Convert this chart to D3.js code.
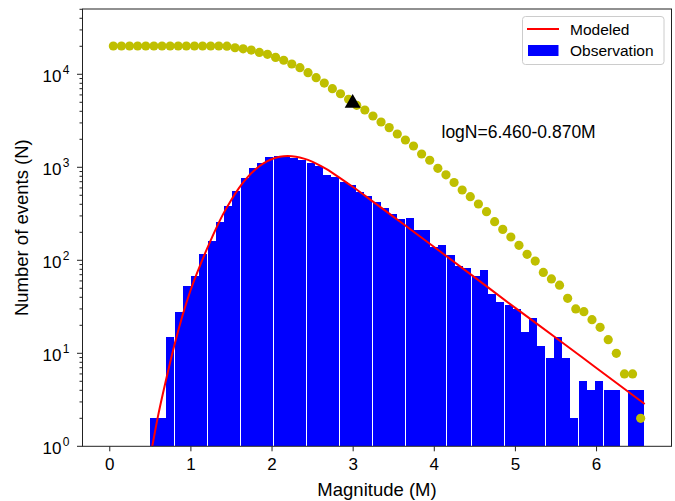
<!DOCTYPE html>
<html>
<head>
<meta charset="utf-8">
<script src="https://cdn.jsdelivr.net/npm/d3@7"></script>
<style>
  body { margin: 0; background: #fff; }
  text { font-family: "Liberation Sans", Arial, Helvetica, sans-serif; fill: #000; }
</style>
</head>
<body>
<div id="root"></div>
<script>
// observed histogram: 60 bins between 0.5 and 6.6 (edges) and their counts
const binEdges = [0.500, 0.602, 0.703, 0.805, 0.907, 1.008, 1.110, 1.212, 1.313, 1.415,
  1.517, 1.618, 1.720, 1.822, 1.923, 2.025, 2.127, 2.228, 2.330, 2.432,
  2.533, 2.635, 2.737, 2.838, 2.940, 3.042, 3.143, 3.245, 3.347, 3.448,
  3.550, 3.652, 3.753, 3.855, 3.957, 4.058, 4.160, 4.262, 4.363, 4.465,
  4.567, 4.668, 4.770, 4.872, 4.973, 5.075, 5.177, 5.278, 5.380, 5.482,
  5.583, 5.685, 5.787, 5.888, 5.990, 6.092, 6.193, 6.295, 6.397, 6.498, 6.600]
const binCounts = [2, 2, 15, 28, 53, 68, 116, 161, 258, 380,
  560, 762, 975, 1105, 1290, 1310, 1310, 1260, 1185, 1125,
  1035, 830, 785, 700, 645, 547, 491, 424, 362, 315,
  278, 285, 212, 212, 140, 146, 114, 87, 83, 67,
  79, 43, 36, 33, 30, 17, 24, 12, 9, 15,
  9, 2, 5, 4, 5, 4, 4, 0, 4, 4]
const barWidth = 0.0985

// cumulative counts (yellow dots)
const cumMags = [0.05, 0.15, 0.25, 0.35, 0.45, 0.55, 0.65, 0.75, 0.85, 0.95,
  1.05, 1.15, 1.25, 1.35, 1.45, 1.55, 1.65, 1.75, 1.85, 1.95,
  2.05, 2.15, 2.25, 2.35, 2.45, 2.55, 2.65, 2.75, 2.85, 2.95,
  3.05, 3.15, 3.25, 3.35, 3.45, 3.55, 3.65, 3.75, 3.85, 3.95,
  4.05, 4.15, 4.25, 4.35, 4.45, 4.55, 4.65, 4.75, 4.85, 4.95,
  5.05, 5.15, 5.25, 5.35, 5.45, 5.55, 5.65, 5.75, 5.85, 5.95,
  6.05, 6.15, 6.25, 6.35, 6.45, 6.55]
const cumCounts = [20150, 20150, 20150, 20150, 20150, 20150, 20150, 20150, 20150, 20150,
  20150, 20150, 20150, 20150, 20050, 19300, 18800, 18200, 17200, 16400,
  15200, 14150, 12900, 11770, 10400, 9190, 8050, 7000, 6180, 5380,
  4640, 4130, 3560, 3070, 2670, 2280, 1965, 1695, 1390, 1190,
  975, 830, 686, 570, 483, 403, 333, 260, 215, 178,
  145, 116, 98, 74, 63, 54, 39, 30, 28, 23,
  19, 14, 10, 6, 6, 2]

// modeled curve
const modelMags = [0.53, 0.6, 0.7, 0.8, 0.9, 1.0, 1.1, 1.2, 1.3, 1.4,
  1.5, 1.6, 1.7, 1.8, 1.9, 2.0, 2.1, 2.2, 2.3, 2.4,
  2.5, 2.6, 2.7, 2.8, 3.0, 3.2, 3.5, 4.0, 4.5, 5.0, 5.5, 6.0, 6.6]
const modelCounts = [1.0, 2.1, 5.2, 12, 25, 47, 80, 130, 205, 310,
  440, 600, 775, 945, 1100, 1220, 1295, 1320, 1300, 1240,
  1150, 1040, 930, 815, 617, 461, 295, 140, 66, 31, 14.8, 7.0, 2.85]

// completeness magnitude marker
const mcMag = 3.0
const mcCount = 4900

const fitLabel = "logN=6.460-0.870M"
const xTicks = [0, 1, 2, 3, 4, 5, 6]
const yMajor = [1, 10, 100, 1000, 10000]

const width = 675
const height = 501
const margin = { top: 9, right: 3.5, bottom: 54.7, left: 82.5 }
const boundedWidth = width - margin.left - margin.right
const boundedHeight = height - margin.top - margin.bottom

const svg = d3.select("#root").append("svg")
  .attr("width", width)
  .attr("height", height)

const bounds = svg.append("g")
  .attr("transform", `translate(${margin.left},${margin.top})`)

const xScale = d3.scaleLinear()
  .domain([-0.33, 6.93])
  .range([0, boundedWidth])

const yScale = d3.scaleLog()
  .domain([1, Math.pow(10, 4.702)])
  .range([boundedHeight, 0])

// bars
const bins = binCounts.map((n, i) => ({ m: binEdges[i], n })).filter(d => d.n > 0)
bounds.append("g")
  .selectAll("rect")
  .data(bins)
  .join("rect")
  .attr("x", d => xScale(d.m))
  .attr("width", d => xScale(d.m + barWidth) - xScale(d.m))
  .attr("y", d => yScale(d.n))
  .attr("height", d => boundedHeight - yScale(d.n))
  .attr("fill", "#0000ff")
  .attr("shape-rendering", "crispEdges")

// modeled curve
const modelData = modelMags.map((m, i) => [m, modelCounts[i]])
bounds.append("path")
  .datum(modelData)
  .attr("fill", "none")
  .attr("stroke", "#ff0000")
  .attr("stroke-width", 2)
  .attr("d", d3.line()
    .x(d => xScale(d[0]))
    .y(d => yScale(d[1]))
    .curve(d3.curveMonotoneX))

// cumulative dots
bounds.append("g")
  .selectAll("circle")
  .data(cumMags.map((m, i) => [m, cumCounts[i]]))
  .join("circle")
  .attr("cx", d => xScale(d[0]))
  .attr("cy", d => yScale(d[1]))
  .attr("r", 4.6)
  .attr("fill", "#bfbf00")

// Mc triangle
bounds.append("path")
  .attr("d", d3.symbol(d3.symbolTriangle, 110)())
  .attr("transform", `translate(${xScale(mcMag)},${yScale(mcCount)})`)
  .attr("fill", "#000")

bounds.append("text")
  .attr("x", 359)
  .attr("y", 129)
  .style("font-size", "17.5px")
  .text(fitLabel)

// frame
bounds.append("rect")
  .attr("width", boundedWidth)
  .attr("height", boundedHeight)
  .attr("fill", "none")
  .attr("stroke", "#222")
  .attr("stroke-width", 1)

// x axis
const xAxis = bounds.append("g")
  .attr("transform", `translate(0,${boundedHeight})`)
  .call(d3.axisBottom(xScale).tickValues(xTicks).tickFormat(d3.format("d")).tickSize(5).tickPadding(7))
xAxis.select(".domain").remove()
xAxis.selectAll("line").attr("stroke", "#222")
xAxis.selectAll("text").style("font-size", "17px").attr("fill", "#000")

// y axis, log ticks
const yAxis = bounds.append("g")
const minorTicks = []
yMajor.concat([100000]).forEach(p => {
  for (let k = 2; k <= 9; k++) {
    const v = p * k
    if (v < yScale.domain()[1]) minorTicks.push(v)
  }
})
yAxis.selectAll(".minor")
  .data(minorTicks)
  .join("line")
  .attr("x1", -3)
  .attr("x2", 0)
  .attr("y1", d => yScale(d))
  .attr("y2", d => yScale(d))
  .attr("stroke", "#222")
yAxis.selectAll(".major")
  .data(yMajor)
  .join("line")
  .attr("x1", -5.5)
  .attr("x2", 0)
  .attr("y1", d => yScale(d))
  .attr("y2", d => yScale(d))
  .attr("stroke", "#222")

const yLabels = yAxis.selectAll(".ylab")
  .data(yMajor)
  .join("text")
  .attr("text-anchor", "end")
  .attr("x", -21)
  .attr("y", d => yScale(d) + 8)
  .style("font-size", "17px")
yLabels.text("10")
yLabels.append("tspan")
  .attr("x", -13)
  .attr("y", d => yScale(d))
  .attr("text-anchor", "end")
  .style("font-size", "12px")
yAxis.selectAll("text").each(function(d) {
  d3.select(this).select("tspan").text(Math.round(Math.log10(d)))
})

// axis labels
svg.append("text")
  .attr("x", margin.left + boundedWidth / 2)
  .attr("y", 496)
  .attr("text-anchor", "middle")
  .style("font-size", "18.5px")
  .text("Magnitude (M)")

svg.append("text")
  .attr("transform", `translate(28,${margin.top + boundedHeight / 2}) rotate(-90)`)
  .attr("text-anchor", "middle")
  .style("font-size", "18.5px")
  .text("Number of events (N)")

// legend
const legend = svg.append("g").attr("transform", "translate(522.5,16.5)")
legend.append("rect")
  .attr("width", 141.5)
  .attr("height", 48)
  .attr("rx", 3)
  .attr("fill", "#fff")
  .attr("fill-opacity", 0.8)
  .attr("stroke", "#ccc")
legend.append("line")
  .attr("x1", 4.5).attr("x2", 36.5)
  .attr("y1", 12.5).attr("y2", 12.5)
  .attr("stroke", "#ff0000")
  .attr("stroke-width", 2)
legend.append("rect")
  .attr("x", 5.5).attr("y", 28.5)
  .attr("width", 30.5).attr("height", 11)
  .attr("fill", "#0000ff")
legend.append("text")
  .attr("x", 47.5).attr("y", 18)
  .style("font-size", "15.5px")
  .text("Modeled")
legend.append("text")
  .attr("x", 47.5).attr("y", 39.5)
  .style("font-size", "15.5px")
  .text("Observation")
</script>
</body>
</html>
